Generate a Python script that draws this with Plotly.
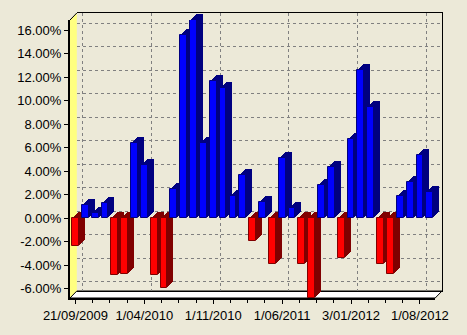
import plotly.graph_objects as go

# ---- data (monthly returns, %) ----
month_index = list(range(37))  # Sep 2009 .. Sep 2012
returns = [-2.34, 1.15, 0.44, 1.30, -4.84, -4.75, 6.40, 4.55, -4.84, -5.94,
           2.50, 15.60, 16.89, 6.40, 11.70, 11.08, 1.90, 3.70, -1.90, 1.43,
           -3.87, 5.12, 0.87, -3.87, -6.79, 2.85, 4.41, -3.39, 6.74, 12.64,
           9.46, -3.87, -4.72, 1.94, 3.13, 5.40, 2.28]
x_tick_vals = [0, 7, 14, 21, 28, 35]
x_tick_text = ["21/09/2009", "1/04/2010", "1/11/2010", "1/06/2011", "3/01/2012", "1/08/2012"]
y_tick_vals = [-6, -4, -2, 0, 2, 4, 6, 8, 10, 12, 14, 16]
y_tick_text = [f"{v:.2f}%" for v in y_tick_vals]

# ---- geometry (pixels) ----
W, H = 467, 335
L, R, T, B = 70, 14, 13, 37
PW, PH = W - L - R, H - T - B          # 383 x 285 total (front + wall depth)
WALL = 7                                # wall depth in px
FW, FH = PW - WALL, PH - WALL           # front plane size
BAR_DEPTH = 6
xr = [-0.55, 36.55]
yr = [-6.79, 16.89]

front_col = ["#0000FF" if v >= 0 else "#FF0000" for v in returns]
dark_col = ["#000080" if v >= 0 else "#800000" for v in returns]

fig = go.Figure()
layout = {}

def dom(shift):
    return ([shift / PW, (FW + shift) / PW], [shift / PH, (FH + shift) / PH])

# back wall axes (gridlines)
dx, dy = dom(WALL)
fig.add_trace(go.Scatter(x=[None], y=[None], xaxis="x", yaxis="y", showlegend=False, hoverinfo="skip"))
layout["xaxis"] = dict(domain=dx, range=xr, anchor="y", showgrid=True, gridcolor="#808080",
                       griddash="3px,3px", gridwidth=1, tickmode="array", tickvals=x_tick_vals,
                       showticklabels=False, ticks="", zeroline=False,
                       showline=True, mirror=True, linecolor="black", linewidth=1)
layout["yaxis"] = dict(domain=dy, range=yr, anchor="x", showgrid=True, gridcolor="#808080",
                       griddash="3px,3px", gridwidth=1, tickmode="array", tickvals=y_tick_vals,
                       showticklabels=False, ticks="", zeroline=False,
                       showline=True, side="right", linecolor="black", linewidth=1)

# depth layers (3D extrusion of bars)
n = 2
for k in range(BAR_DEPTH, 0, -1):
    dx, dy = dom(k)
    xa, ya = f"x{n}", f"y{n}"
    fig.add_trace(go.Bar(x=month_index, y=returns, width=0.69, xaxis=xa, yaxis=ya,
                         marker=dict(color=dark_col, line=dict(width=0)),
                         showlegend=False, hoverinfo="skip"))
    layout[f"xaxis{n}"] = dict(domain=dx, range=xr, anchor=ya, visible=False)
    layout[f"yaxis{n}"] = dict(domain=dy, range=yr, anchor=xa, visible=False)
    n += 1

# front faces + front axes
dx, dy = dom(0)
xa, ya = f"x{n}", f"y{n}"
fig.add_trace(go.Bar(x=month_index, y=returns, width=0.69, xaxis=xa, yaxis=ya,
                     marker=dict(color=front_col, line=dict(color=dark_col, width=1)),
                     showlegend=False))
font = dict(family="Liberation Sans, Arial, sans-serif", size=13, color="black")
layout[f"xaxis{n}"] = dict(domain=dx, range=xr, anchor=ya, showgrid=False, zeroline=False,
                           tickmode="array", tickvals=x_tick_vals, ticktext=x_tick_text,
                           ticks="outside", ticklen=4, tickcolor="black", tickfont=font,
                           minor=dict(tickmode="linear", tick0=0, dtick=1.75, ticks="outside",
                                      ticklen=3, tickcolor="black", showgrid=False),
                           showline=True, linecolor="black", linewidth=2)
layout[f"yaxis{n}"] = dict(domain=dy, range=yr, anchor=xa, showgrid=False, zeroline=False,
                           tickmode="array", tickvals=y_tick_vals, ticktext=y_tick_text,
                           ticks="outside", ticklen=4, tickcolor="black",
                           tickfont=font, showline=True, linecolor="black", linewidth=2)

ax = WALL / PW
ay = WALL / PH
fx = FW / PW
fy = FH / PH
shapes = [
    # left wall (yellow)
    dict(type="path", xref="paper", yref="paper", layer="below",
         path=f"M 0,0 L 0,{fy} L {ax},1 L {ax},{ay} Z",
         fillcolor="#FFFF80", line=dict(width=0)),
    dict(type="line", xref="paper", yref="paper", layer="below",
         x0=0, y0=fy, x1=ax, y1=1, line=dict(color="black", width=1)),
    # floor (white)
    dict(type="path", xref="paper", yref="paper", layer="below",
         path=f"M 0,0 L {fx},0 L 1,{ay} L {ax},{ay} Z",
         fillcolor="white", line=dict(color="black", width=1)),
]

fig.update_layout(**layout)
fig.update_layout(width=W, height=H, margin=dict(l=L, r=R, t=T, b=B, pad=0),
                  paper_bgcolor="#ECE9D8", plot_bgcolor="rgba(0,0,0,0)",
                  showlegend=False, shapes=shapes, bargap=0,
                  font=font)

fig.write_html("out.html")
